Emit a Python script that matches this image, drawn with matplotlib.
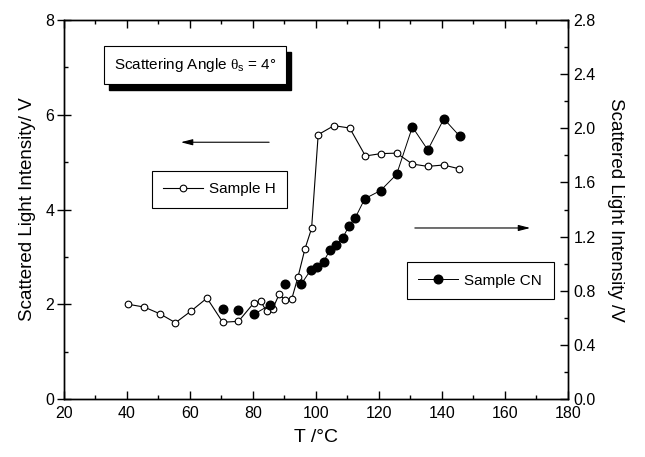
import matplotlib
matplotlib.use("Agg")
import matplotlib.pyplot as plt
from matplotlib.patches import Rectangle
from matplotlib.ticker import MultipleLocator, FormatStrFormatter
from matplotlib.lines import Line2D

plt.rcParams["font.family"] = ["Liberation Sans", "DejaVu Sans"]
plt.rcParams["mathtext.fontset"] = "custom"
plt.rcParams["mathtext.rm"] = "Liberation Serif"
plt.rcParams["mathtext.sf"] = "Liberation Sans"

# Sample H (left axis, V)
T_H = [40.4, 45.5, 50.4, 55.4, 60.4, 65.4, 70.4, 75.4, 80.3, 82.4, 84.3, 86.3, 88.3,
       90.3, 92.3, 94.3, 96.5, 98.6, 100.7, 105.7, 110.7, 115.7, 120.6, 125.6,
       130.6, 135.5, 140.5, 145.4]
I_H = [2.00, 1.94, 1.80, 1.61, 1.86, 2.13, 1.62, 1.64, 2.03, 2.07, 1.85, 1.91, 2.21,
       2.08, 2.11, 2.58, 3.17, 3.60, 5.58, 5.77, 5.72, 5.13, 5.18, 5.19,
       4.96, 4.91, 4.94, 4.86]

# Sample CN (right axis, V)
T_CN = [70.4, 75.4, 80.3, 85.4, 90.3, 95.4, 98.4, 100.4, 102.4, 104.4, 106.5, 108.5,
        110.5, 112.5, 115.5, 120.5, 125.6, 130.6, 135.5, 140.6, 145.7]
I_CN = [0.663, 0.656, 0.626, 0.695, 0.852, 0.852, 0.955, 0.975, 1.014, 1.10, 1.14, 1.19,
        1.28, 1.34, 1.48, 1.54, 1.66, 2.01, 1.84, 2.07, 1.94]
# index ranges of CN points joined by a line (the first points are not joined)
CN_SEGMENTS = [(2, 4), (5, 21)]


def main() -> None:
    fig = plt.figure(figsize=(6.45, 4.57), dpi=100)
    ax = fig.add_axes([0.0992, 0.1269, 0.7814, 0.8293])
    ax2 = ax.twinx()

    ax.plot(T_H, I_H, color="black", lw=0.8, marker="o", ms=4.8,
            mfc="white", mec="black", mew=0.8, zorder=3)

    ax2.plot(T_CN, I_CN, ls="none", marker="o", ms=6.2, color="black", zorder=3)
    for a, b in CN_SEGMENTS:
        ax2.plot(T_CN[a:b], I_CN[a:b], color="black", lw=0.7, zorder=2)

    ax.set_xlim(20, 180)
    ax.set_ylim(0, 8)
    ax2.set_ylim(0, 2.8)

    ax.xaxis.set_major_locator(MultipleLocator(20))
    ax.xaxis.set_minor_locator(MultipleLocator(10))
    ax.yaxis.set_major_locator(MultipleLocator(2))
    ax.yaxis.set_minor_locator(MultipleLocator(1))
    ax2.yaxis.set_major_locator(MultipleLocator(0.4))
    ax2.yaxis.set_minor_locator(MultipleLocator(0.2))
    ax2.yaxis.set_major_formatter(FormatStrFormatter("%.1f"))

    ax.tick_params(axis="x", which="major", direction="in", length=6, width=1,
                   top=True, labelsize=11.5, pad=5)
    ax.tick_params(axis="x", which="minor", direction="in", length=3, width=1, top=True)
    ax.tick_params(axis="y", which="major", direction="inout", length=10, width=1,
                   labelsize=11.5, pad=2)
    ax.tick_params(axis="y", which="minor", direction="in", length=3, width=1)
    ax2.tick_params(axis="y", which="major", direction="in", length=6, width=1,
                    labelsize=11.5, pad=4)
    ax2.tick_params(axis="y", which="minor", direction="in", length=3, width=1)

    for a in (ax, ax2):
        for s in a.spines.values():
            s.set_linewidth(1.0)

    ax.set_xlabel("T /°C", fontsize=14, labelpad=6)
    ax.set_ylabel("Scattered Light Intensity/ V", fontsize=13.5, labelpad=7)
    ax2.set_ylabel("Scattered Light Intensity /V", fontsize=13.5, rotation=270,
                   labelpad=20)

    # boxed label with drop shadow
    x0, x1, y0, y1 = 0.0794, 0.4405, 0.831, 0.931
    dx, dy = 5 / 504, 6 / 379
    ax.add_patch(Rectangle((x0 + dx, y0 - dy), x1 - x0, y1 - y0, transform=ax.transAxes,
                           facecolor="black", edgecolor="black", zorder=5))
    ax.add_patch(Rectangle((x0, y0), x1 - x0, y1 - y0, transform=ax.transAxes,
                           facecolor="white", edgecolor="black", lw=0.8, zorder=6))
    ax.text((x0 + x1) / 2, (y0 + y1) / 2,
            r"Scattering Angle $\mathrm{\theta}_\mathsf{s}$ = 4°",
            transform=ax.transAxes, ha="center", va="center", fontsize=11, zorder=7)

    # arrows pointing to each axis
    arrow = dict(arrowstyle="-|>,head_length=0.7,head_width=0.18", color="black", lw=0.8)
    ax.annotate("", xy=(56.2, 5.42), xytext=(86.0, 5.42), arrowprops=arrow)
    ax.annotate("", xy=(168.9, 3.61), xytext=(130.5, 3.61), arrowprops=arrow)

    leg_kw = dict(loc="center", fontsize=11, frameon=True, fancybox=False,
                  framealpha=1, edgecolor="black", handlelength=2.6,
                  handletextpad=0.4, borderpad=0.75, numpoints=1)
    h_handle = Line2D([], [], color="black", lw=0.8, marker="o", ms=4.8,
                      mfc="white", mec="black", mew=0.8)
    cn_handle = Line2D([], [], color="black", lw=0.7, marker="o", ms=6.2)
    leg1 = ax2.legend([h_handle], ["Sample H"], bbox_to_anchor=(0.3086, 0.554), **leg_kw)
    leg1.get_frame().set_linewidth(0.8)
    ax2.add_artist(leg1)
    leg2 = ax2.legend([cn_handle], ["Sample CN"], bbox_to_anchor=(0.826, 0.3125), **leg_kw)
    leg2.get_frame().set_linewidth(0.8)

    fig.savefig("out.png", dpi=100)
    plt.close(fig)


if __name__ == "__main__":
    main()
